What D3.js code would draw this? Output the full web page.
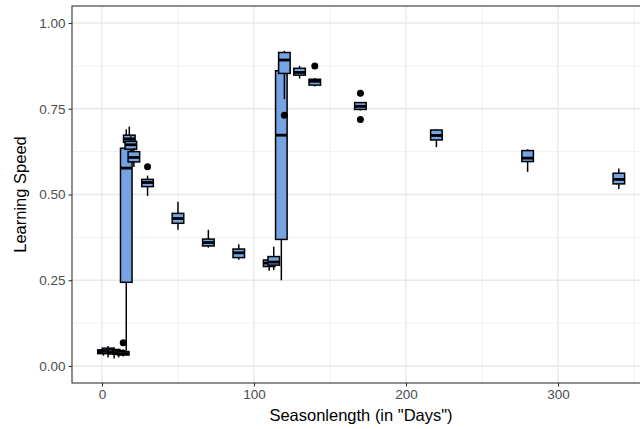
<!DOCTYPE html>
<html>
<head>
<meta charset="utf-8">
<script src="https://cdn.jsdelivr.net/npm/d3@7"></script>
<style>
  html, body { margin: 0; padding: 0; background: #fff; overflow: hidden; }
  svg { display: block; font-family: "Liberation Sans", Arial, sans-serif; }
</style>
</head>
<body>
<div id="chart"></div>
<script>
// season lengths (days) of each box, in draw order
const seasonDays = [1, 4, 8, 11, 14, 16, 18, 19, 21, 30, 50, 70, 90, 110, 113, 118, 120, 130, 140, 170, 220, 280, 340]
const whiskerLow = [0.030, 0.025, 0.022, 0.025, 0.028, 0.035, 0.640, 0.610, 0.580, 0.496, 0.397, 0.345, 0.310, 0.278, 0.280, 0.250, 0.778, 0.838, 0.815, 0.745, 0.638, 0.566, 0.516]
const q1 = [0.036, 0.038, 0.035, 0.034, 0.032, 0.244, 0.652, 0.632, 0.595, 0.523, 0.416, 0.350, 0.316, 0.290, 0.294, 0.369, 0.853, 0.848, 0.819, 0.748, 0.659, 0.596, 0.531]
const median = [0.042, 0.045, 0.041, 0.039, 0.036, 0.577, 0.662, 0.645, 0.608, 0.535, 0.430, 0.360, 0.330, 0.300, 0.303, 0.673, 0.892, 0.856, 0.830, 0.757, 0.672, 0.606, 0.544]
const q3 = [0.047, 0.052, 0.048, 0.045, 0.042, 0.635, 0.673, 0.655, 0.625, 0.544, 0.445, 0.370, 0.341, 0.309, 0.319, 0.861, 0.914, 0.868, 0.836, 0.768, 0.688, 0.628, 0.562]
const whiskerHigh = [0.052, 0.058, 0.054, 0.050, 0.048, 0.690, 0.698, 0.670, 0.635, 0.555, 0.479, 0.397, 0.355, 0.320, 0.348, 0.861, 0.919, 0.875, 0.840, 0.768, 0.690, 0.632, 0.576]
const outlierDays = [14, 30, 120, 140, 170, 170]
const outlierValues = [0.068, 0.581, 0.731, 0.875, 0.795, 0.719]

const xTicks = [0, 100, 200, 300]
const xMinor = [50, 150, 250, 350]
const yTicks = [0, 0.25, 0.5, 0.75, 1.0]
const yMinor = [0.125, 0.375, 0.625, 0.875]

const boxWidthDays = 7.6

const width = 640
const height = 429
const panel = { left: 72, right: 650, top: 6, bottom: 383 }

const svg = d3.select('#chart')
  .append('svg')
  .attr('width', width)
  .attr('height', height)

const x = d3.scaleLinear()
  .domain([-19.7, 360.5])
  .range([panel.left, panel.right])

const y = d3.scaleLinear()
  .domain([-0.0496, 1.0496])
  .range([panel.bottom, panel.top])

// panel background + grid
const grid = svg.append('g')
grid.append('rect')
  .attr('x', panel.left).attr('y', panel.top)
  .attr('width', panel.right - panel.left)
  .attr('height', panel.bottom - panel.top)
  .attr('fill', '#fff')

grid.selectAll('line.xminor').data(xMinor).enter().append('line')
  .attr('x1', d => x(d)).attr('x2', d => x(d))
  .attr('y1', panel.top).attr('y2', panel.bottom)
  .attr('stroke', '#ebebeb').attr('stroke-width', 0.7)
grid.selectAll('line.yminor').data(yMinor).enter().append('line')
  .attr('x1', panel.left).attr('x2', panel.right)
  .attr('y1', d => y(d)).attr('y2', d => y(d))
  .attr('stroke', '#ebebeb').attr('stroke-width', 0.7)
grid.selectAll('line.xmajor').data(xTicks).enter().append('line')
  .attr('x1', d => x(d)).attr('x2', d => x(d))
  .attr('y1', panel.top).attr('y2', panel.bottom)
  .attr('stroke', '#e8e8e8').attr('stroke-width', 1.3)
grid.selectAll('line.ymajor').data(yTicks).enter().append('line')
  .attr('x1', panel.left).attr('x2', panel.right)
  .attr('y1', d => y(d)).attr('y2', d => y(d))
  .attr('stroke', '#e8e8e8').attr('stroke-width', 1.3)

// boxes
const boxes = seasonDays.map((d, i) => ({
  day: d, lo: whiskerLow[i], q1: q1[i], med: median[i], q3: q3[i], hi: whiskerHigh[i]
}))

const halfW = d => (x(d.day + boxWidthDays / 2) - x(d.day - boxWidthDays / 2)) / 2

const g = svg.append('g')
boxes.forEach(d => {
  const cx = x(d.day)
  const hw = halfW(d)
  const b = g.append('g')
  b.append('line')
    .attr('x1', cx).attr('x2', cx)
    .attr('y1', y(d.q3)).attr('y2', y(d.hi))
    .attr('stroke', '#000').attr('stroke-width', 1.5)
  b.append('line')
    .attr('x1', cx).attr('x2', cx)
    .attr('y1', y(d.q1)).attr('y2', y(d.lo))
    .attr('stroke', '#000').attr('stroke-width', 1.5)
  b.append('rect')
    .attr('x', cx - hw).attr('width', hw * 2)
    .attr('y', y(d.q3)).attr('height', y(d.q1) - y(d.q3))
    .attr('fill', '#75a3e3')
    .attr('stroke', '#000').attr('stroke-width', 1.5)
  b.append('line')
    .attr('x1', cx - hw).attr('x2', cx + hw)
    .attr('y1', y(d.med)).attr('y2', y(d.med))
    .attr('stroke', '#000').attr('stroke-width', 2.8)
  outlierDays.forEach((od, j) => {
    if (od === d.day) {
      b.append('circle')
        .attr('cx', cx).attr('cy', y(outlierValues[j]))
        .attr('r', 3.5).attr('fill', '#000')
    }
  })
})

// panel border
svg.append('rect')
  .attr('x', panel.left).attr('y', panel.top)
  .attr('width', panel.right - panel.left)
  .attr('height', panel.bottom - panel.top)
  .attr('fill', 'none').attr('stroke', '#333').attr('stroke-width', 1.1)

// axes
const xAxis = svg.append('g')
  .attr('transform', `translate(0,${panel.bottom})`)
  .call(d3.axisBottom(x).tickValues(xTicks).tickFormat(d3.format('d')).tickSize(3.5).tickPadding(3))
const yAxis = svg.append('g')
  .attr('transform', `translate(${panel.left},0)`)
  .call(d3.axisLeft(y).tickValues(yTicks).tickFormat(d3.format('.2f')).tickSize(3.5).tickPadding(3))

;[xAxis, yAxis].forEach(a => {
  a.select('.domain').remove()
  a.selectAll('.tick line').attr('stroke', '#333').attr('stroke-width', 1.1)
  a.selectAll('.tick text')
    .attr('fill', '#4d4d4d')
    .style('font-size', '13.5px')
    .style('font-family', '"Liberation Sans", Arial, sans-serif')
})

// titles
svg.append('text')
  .attr('x', (panel.left + panel.right) / 2)
  .attr('y', 421)
  .attr('text-anchor', 'middle')
  .style('font-size', '16.5px')
  .text('Seasonlength (in "Days")')

svg.append('text')
  .attr('transform', `translate(26,${(panel.top + panel.bottom) / 2}) rotate(-90)`)
  .attr('text-anchor', 'middle')
  .style('font-size', '16.5px')
  .text('Learning Speed')
</script>
</body>
</html>
